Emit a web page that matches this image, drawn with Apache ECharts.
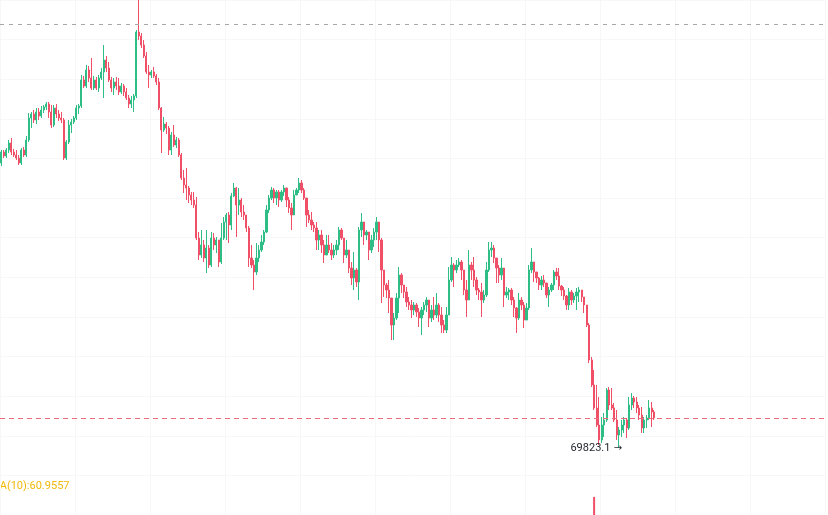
<!DOCTYPE html>
<html>
<head>
<meta charset="utf-8">
<script src="https://cdn.jsdelivr.net/npm/echarts@6/dist/echarts.min.js"></script>
<style>
  html, body { margin: 0; padding: 0; background: #ffffff; }
  #chart { width: 828px; height: 515px; }
</style>
</head>
<body>
<div id="chart"></div>
<script>
// ---- data ----
const slotCount = 331;               // category slots across the width (incl. empty future area)
const firstOpen = 72670;
const closes = [
72780,72740,72800,72870,72780,72750,72720,72670,72800,72750,
72900,73120,73160,73100,73180,73140,73200,73230,73260,73180,
73050,73220,73160,73120,73100,72720,72880,73050,73080,73120,
73220,73240,73500,73440,73600,73520,73420,73500,73420,73520,
73580,73700,73620,73500,73420,73480,73440,73380,73440,73380,
73320,73260,73300,73340,73980,73940,73850,73740,73580,73550,
73580,73540,73480,73220,73000,73060,73020,72800,72950,72850,
72900,72750,72520,72450,72420,72350,72300,72250,71920,71750,
71850,71720,71820,71650,71920,71850,71900,71680,71920,72080,
72150,72050,72340,72420,72250,72300,72180,72150,72020,71720,
71650,71580,71720,71800,71880,71980,72200,72320,72400,72320,
72380,72300,72380,72420,72300,72220,72150,72350,72400,72470,
72400,72320,72150,72100,72050,72020,71900,71950,71850,71750,
71850,71800,71750,71800,71850,72000,71920,71750,71800,71620,
71520,71600,71480,72000,72080,71950,71980,71800,71900,71980,
72080,71900,71600,71450,71400,71320,71050,71120,71320,71550,
71450,71380,71280,71250,71200,71250,71180,71120,71200,71250,
71300,71120,71200,71150,71250,71150,71050,71000,71150,71500,
71650,71600,71650,71680,71600,71400,71300,71650,71600,71500,
71400,71380,71300,71350,71600,71800,71820,71720,71620,71550,
71620,71350,71380,71400,71300,71220,71120,71300,71250,71100,
71220,71600,71680,71580,71520,71450,71500,71470,71350,71400,
71450,71580,71540,71440,71400,71340,71250,71380,71300,71340,
71380,71400,71330,71250,71050,70700,70450,70220,70050,69900,
70050,70100,70400,70250,70220,70100,69950,70000,70050,70100,
70020,70250,70320,70280,70220,70150,70020,70100,70120,70220,
70180,70120
];
const highs = [
72800,72800,72820,72900,72920,72810,72800,72750,72820,72830,
72940,73170,73180,73200,73220,73220,73240,73250,73280,73280,
73250,73250,73260,73200,73180,73120,72900,73100,73110,73140,
73250,73260,73550,73540,73650,73640,73720,73540,73530,73550,
73620,73850,73740,73680,73530,73520,73530,73520,73470,73460,
73420,73350,73340,73360,74000,74330,73970,73900,73780,73650,
73600,73630,73560,73520,73230,73130,73080,73040,72980,73050,
72930,72920,72770,72600,72620,72440,72380,72380,72330,71980,
72000,71900,72000,71850,71980,71970,71930,71870,72070,72130,
72170,72180,72370,72470,72430,72420,72320,72250,72150,72040,
71850,71700,71870,71850,71950,72000,72250,72350,72430,72420,
72400,72400,72400,72450,72420,72330,72270,72400,72420,72520,
72500,72420,72320,72200,72180,72080,72080,72000,72000,71900,
71950,71950,71870,71850,71900,72030,72020,71920,71900,71800,
71680,71780,71620,72030,72170,72080,72000,71980,71950,72020,
72130,72080,71920,71600,71470,71500,71320,71170,71370,71630,
71570,71450,71430,71330,71300,71280,71270,71220,71230,71280,
71330,71300,71250,71330,71370,71270,71230,71100,71230,71630,
71730,71670,71700,71720,71700,71600,71500,71800,71680,71730,
71530,71420,71470,71400,71680,71880,71880,71850,71720,71650,
71720,71620,71430,71420,71420,71330,71230,71370,71330,71280,
71270,71650,71820,71680,71580,71530,71540,71550,71400,71430,
71470,71600,71620,71620,71450,71430,71350,71420,71400,71370,
71420,71430,71400,71320,71250,71070,70730,70600,70450,70330,
70130,70170,70420,70430,70420,70270,70200,70030,70100,70130,
70120,70330,70370,70340,70330,70250,70230,70130,70150,70300,
70280,70200
];
const lows = [
72640,72720,72720,72770,72750,72730,72700,72650,72650,72730,
72730,72880,73020,73070,73060,73100,73120,73170,73200,73120,
73020,73030,73120,73090,73070,72700,72700,72860,72970,73060,
73100,73160,73220,73420,73420,73480,73400,73400,73400,73380,
73500,73320,73580,73480,73380,73350,73400,73350,73360,73340,
73300,73220,73220,73180,73320,73900,73820,73720,73560,73420,
73520,73520,73450,73200,72770,72980,72960,72750,72750,72830,
72820,72730,72500,72370,72300,72270,72250,72220,71900,71700,
71720,71680,71570,71620,71630,71800,71770,71630,71660,71900,
71900,71870,72000,72330,71930,72150,72130,72100,71980,71630,
71620,71400,71550,71680,71780,71850,71970,72170,72300,72270,
72250,72230,72280,72340,72230,72170,72000,72170,72350,72370,
72370,72300,72030,72070,72000,71980,71800,71800,71770,71670,
71750,71770,71700,71720,71750,71800,71900,71670,71720,71570,
71450,71400,71430,71300,71930,71850,71900,71700,71770,71830,
71900,71780,71270,71330,71320,71170,70900,70900,71100,71170,
71370,71320,71230,71200,71120,71150,71130,71030,70950,71150,
71180,71030,71080,71100,71120,71080,70970,70970,70970,71150,
71480,71430,71570,71630,71500,71350,71130,71300,71500,71430,
71350,71300,71130,71270,71330,71580,71730,71670,71470,71470,
71500,71230,71320,71300,71250,71130,70970,71100,71200,71020,
71130,71200,71570,71480,71470,71400,71400,71430,71320,71230,
71380,71400,71500,71400,71340,71300,71200,71200,71250,71270,
71200,71280,71280,71170,71030,70670,70430,70200,70030,69850,
69870,69930,70080,70200,70200,70080,69900,69823.1,69930,69970,
69920,70000,70200,70220,70170,70100,69970,69970,70020,70100,
70030,70100
];
// only the tallest volume bar reaches into the visible part of the lower pane
const volumeSpikes = [[237, 49]];
const lowLabel = '69823.1';
const lowIndex = 247;
const topRefPrice = 74060;     // grey dashed reference line
const lastPrice = 70120;       // red dashed current-price line
const maText = 'MA(10):60.9557';

// ---- build library structures ----
const categories = Array.from({ length: slotCount }, (_, i) => String(i + 1));
const ohlc = closes.map((c, i) => {
  const o = i === 0 ? firstOpen : closes[i - 1];
  return [o, c, Math.min(lows[i], o, c), Math.max(highs[i], o, c)];
});
const UP = '#2ebd85', DOWN = '#ef5068';
const volData = categories.map(() => null);
volumeSpikes.forEach(([i, v]) => {
  volData[i] = { value: v, itemStyle: { color: ohlc[i][1] >= ohlc[i][0] ? UP : DOWN } };
});

const chart = echarts.init(document.getElementById('chart'), null, { renderer: 'canvas' });
chart.setOption({
  animation: false,
  backgroundColor: '#ffffff',
  grid: [
    { left: 0, right: 0, top: 0, height: 470 },
    { left: 0, right: 0, top: 478, bottom: 0 },
    { left: -55, width: 880, top: -1.3, height: 536.9 }
  ],
  xAxis: [
    { type: 'category', gridIndex: 0, data: categories, boundaryGap: true, show: false },
    { type: 'category', gridIndex: 1, data: categories, boundaryGap: true, show: false },
    { type: 'value', gridIndex: 2, min: 0, max: 11, interval: 1,
      axisLine: { show: false }, axisTick: { show: false }, axisLabel: { show: false },
      splitLine: { show: true, lineStyle: { color: '#f7f7f7', width: 1 } } }
  ],
  yAxis: [
    { type: 'value', gridIndex: 0, min: 69600, max: 74300, show: false, splitLine: { show: false } },
    { type: 'value', gridIndex: 1, min: 0, max: 100, show: false, splitLine: { show: false } },
    { type: 'value', gridIndex: 2, min: 0, max: 13, interval: 1,
      axisLine: { show: false }, axisTick: { show: false }, axisLabel: { show: false },
      splitLine: { show: true, lineStyle: { color: '#f7f7f7', width: 1 } } }
  ],
  series: [
    {
      type: 'candlestick',
      xAxisIndex: 0, yAxisIndex: 0,
      data: ohlc,
      barWidth: 1.7,
      itemStyle: { color: UP, color0: DOWN, borderColor: UP, borderColor0: DOWN, borderWidth: 1 },
      markLine: {
        silent: true,
        symbol: ['none', 'none'],
        label: { show: false },
        data: [
          { yAxis: topRefPrice, lineStyle: { color: '#a8a8a8', type: [4, 5], width: 1 } },
          { yAxis: lastPrice, lineStyle: { color: '#ee6b7d', type: [5, 4], width: 1 } }
        ]
      },
      markPoint: {
        silent: true,
        symbol: 'circle',
        symbolSize: 0,
        data: [{
          coord: [lowIndex, lows[lowIndex]],
          label: {
            show: true,
            position: 'left',
            distance: 0,
            offset: [3, 1],
            formatter: '{a|' + lowLabel + '} {b|→}',
            rich: {
              a: { color: '#1e2329', fontSize: 11, fontFamily: 'Roboto, sans-serif' },
              b: { color: '#1e2329', fontSize: 10, fontFamily: 'DejaVu Sans, sans-serif' }
            }
          }
        }]
      }
    },
    {
      type: 'bar',
      xAxisIndex: 1, yAxisIndex: 1,
      data: volData,
      barWidth: 2
    }
  ],
  graphic: [
    {
      type: 'text',
      left: -10,
      top: 481,
      style: { text: maText, fill: '#f0b90b', fontSize: 11, fontFamily: 'Roboto, sans-serif' }
    }
  ]
});
</script>
</body>
</html>
